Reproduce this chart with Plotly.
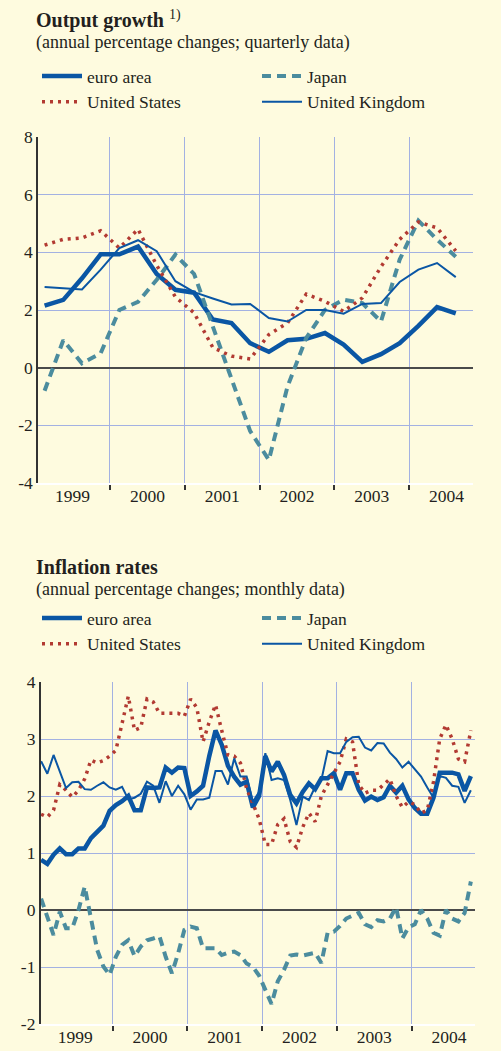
import plotly.graph_objects as go

# ---------------- data ----------------
years = [1999, 2000, 2001, 2002, 2003, 2004]
year_labels = ["1999", "2000", "2001", "2002", "2003", "2004"]
top_ticks = [-4, -2, 0, 2, 4, 6, 8]
bot_ticks = [-2, -1, 0, 1, 2, 3, 4]

# Output growth, quarterly 1999Q1 - 2004Q3
n_quarters = 23
euro_q = [2.15, 2.35, 3.1, 3.93, 3.93, 4.2, 3.25, 2.7, 2.6, 1.67, 1.55, 0.85,
          0.55, 0.95, 1.0, 1.2, 0.8, 0.2, 0.47, 0.85, 1.45, 2.1, 1.88]
japan_q = [-0.8, 0.95, 0.15, 0.5, 2.0, 2.28, 3.05, 3.92, 3.25, 1.45, -0.3, -2.2,
           -3.2, -0.65, 1.03, 2.0, 2.36, 2.24, 1.6, 3.75, 5.1, 4.44, 3.85]
us_q = [4.25, 4.45, 4.5, 4.75, 4.15, 4.8, 3.55, 2.45, 1.9, 0.7, 0.4, 0.3,
        1.15, 1.55, 2.55, 2.3, 1.95, 2.42, 3.5, 4.45, 5.05, 4.85, 4.05]
uk_q = [2.8, 2.75, 2.71, 3.4, 4.15, 4.42, 4.04, 3.0, 2.62, 2.4, 2.19, 2.21,
        1.72, 1.6, 2.0, 2.0, 1.87, 2.21, 2.24, 2.97, 3.4, 3.63, 3.14]

# Inflation rates, monthly Jan 1999 - Oct 2004
n_months = 70
euro_m = [0.88, 0.81, 0.97, 1.08, 0.98, 0.98, 1.08, 1.08, 1.26, 1.38, 1.48, 1.74,
          1.84, 1.91, 2.0, 1.75, 1.75, 2.15, 2.14, 2.15, 2.5, 2.41, 2.5, 2.49,
          2.0, 2.08, 2.18, 2.7, 3.15, 2.9, 2.53, 2.34, 2.2, 2.25, 1.8, 2.0,
          2.7, 2.43, 2.6, 2.37, 2.02, 1.87, 2.07, 2.22, 2.12, 2.31, 2.31, 2.4,
          2.11, 2.4, 2.4, 2.11, 1.92, 1.99, 1.93, 1.98, 2.18, 2.06, 2.18, 1.94,
          1.79, 1.69, 1.69, 1.97, 2.41, 2.41, 2.41, 2.38, 2.09, 2.35]
japan_m = [0.2, -0.12, -0.44, -0.03, -0.32, -0.32, 0.0, 0.41, -0.12, -0.7, -0.99, -1.14,
           -0.82, -0.61, -0.53, -0.81, -0.64, -0.53, -0.5, -0.46, -0.82, -1.11, -0.76, -0.35,
           -0.29, -0.32, -0.67, -0.67, -0.67, -0.79, -0.75, -0.73, -0.79, -0.94, -1.0, -1.15,
           -1.4, -1.65, -1.25, -1.05, -0.8, -0.78, -0.8, -0.77, -0.75, -0.93, -0.4, -0.38,
           -0.28, -0.15, -0.1, -0.05, -0.25, -0.3, -0.18, -0.2, -0.15, 0.05, -0.5, -0.3,
           -0.25, 0.0, -0.15, -0.4, -0.45, 0.0, -0.15, -0.2, -0.05, 0.5]
us_m = [1.68, 1.63, 1.75, 2.2, 2.1, 1.98, 2.1, 2.3, 2.63, 2.58, 2.62, 2.7,
        2.8, 3.3, 3.75, 3.15, 3.2, 3.7, 3.65, 3.45, 3.45, 3.45, 3.45, 3.4,
        3.7, 3.55, 2.95, 3.3, 3.6, 3.15, 2.72, 2.7, 2.58, 2.13, 1.85, 1.6,
        1.15, 1.15, 1.5, 1.6, 1.2, 1.1, 1.45, 1.7, 1.55, 2.0, 2.2, 2.4,
        2.6, 3.0, 2.95, 2.2, 2.05, 2.1, 2.1, 2.2, 2.3, 2.0, 1.8, 1.9,
        1.85, 1.7, 1.75, 2.25, 3.0, 3.25, 3.0, 2.65, 2.6, 3.15]
uk_m = [2.61, 2.39, 2.72, 2.44, 2.14, 2.24, 2.25, 2.12, 2.11, 2.18, 2.24, 2.15,
        2.11, 2.16, 1.94, 1.97, 2.04, 2.25, 2.18, 1.88, 2.26, 2.0, 2.18, 2.03,
        1.76, 1.94, 1.94, 1.97, 2.44, 2.44, 2.2, 2.66, 2.34, 2.34, 1.9, 2.07,
        2.75, 2.28, 2.31, 2.28, 1.93, 1.49, 1.99, 1.93, 2.16, 2.28, 2.79, 2.75,
        2.75, 2.95, 3.03, 3.04, 2.85, 2.8, 2.93, 2.92, 2.76, 2.65, 2.5, 2.6,
        2.47, 2.34, 2.15, 1.97, 2.35, 2.32, 2.18, 2.16, 1.88, 2.1]

# period positions on a numeric time axis (mid-period)
xq = [years[0] + (i + 0.5) / 4 for i in range(n_quarters)]
xm = [years[0] + (i + 0.5) / 12 for i in range(n_months)]

# ---------------- style ----------------
BG = "#FEFBDF"
GRID = "#A3B1E2"
BLUE = "#0A56A4"
RED = "#B23A32"
TEAL = "#4B8C9E"
FONT = "Liberation Serif"
TXT = "#231F20"

series = [
    ("euro area", euro_q, euro_m, dict(color=BLUE, width=4.5)),
    ("Japan", japan_q, japan_m, dict(color=TEAL, width=4, dash="9px,6px")),
    ("United States", us_q, us_m, dict(color=RED, width=3.5, dash="3px,5px")),
    ("United Kingdom", uk_q, uk_m, dict(color=BLUE, width=2)),
]

fig = go.Figure()
for name, q, m, ln in series:
    fig.add_trace(go.Scatter(x=xq, y=q, mode="lines", name=name, line=ln,
                             xaxis="x", yaxis="y", legend="legend"))
for name, q, m, ln in series:
    fig.add_trace(go.Scatter(x=xm, y=m, mode="lines", name=name, line=ln,
                             xaxis="x2", yaxis="y3", legend="legend2"))
# empty traces so that the year-label axes are instantiated
fig.add_trace(go.Scatter(x=[None], y=[None], xaxis="x3", yaxis="y",
                         showlegend=False, hoverinfo="skip"))
fig.add_trace(go.Scatter(x=[None], y=[None], xaxis="x4", yaxis="y3",
                         showlegend=False, hoverinfo="skip"))

H = 1051.0


def py(p):
    return 1 - p / H


tickfont = dict(family=FONT, size=17.5, color=TXT)
mid = [y + 0.5 for y in years]
bounds = years[1:]


def xaxis_ticks(domain, rng, anchor):
    # year boundaries: tick marks + vertical grid lines
    return dict(domain=domain, range=rng, anchor=anchor,
                tickmode="array", tickvals=bounds, showticklabels=False,
                ticks="outside", ticklen=5, tickwidth=1.5, tickcolor="#333333",
                showgrid=True, gridcolor=GRID, gridwidth=1, zeroline=False,
                showline=True, linecolor="#FFFFFF", linewidth=2, fixedrange=True)


def xaxis_labels(over, rng, anchor):
    # year labels centred in each year
    return dict(overlaying=over, range=rng, anchor=anchor, side="bottom",
                tickmode="array", tickvals=mid, ticktext=year_labels,
                ticks="", showgrid=False, zeroline=False, showline=False,
                tickfont=tickfont, fixedrange=True)


def yaxis_cfg(domain, rng, tv, anchor):
    return dict(domain=domain, range=rng, anchor=anchor,
                tickmode="array", tickvals=tv, ticktext=[str(v) for v in tv],
                showgrid=True, gridcolor=GRID, gridwidth=1,
                zeroline=True, zerolinecolor="#4A4A4A", zerolinewidth=1.5,
                showline=True, linecolor="#333333", linewidth=1.5,
                ticks="", tickfont=tickfont, fixedrange=True)


def yaxis_right(over, rng, tv, anchor):
    return dict(overlaying=over, side="right", range=rng, anchor=anchor,
                tickmode="array", tickvals=tv, ticktext=[str(v) for v in tv],
                showgrid=False, zeroline=False, showline=True,
                linecolor="#333333", linewidth=1.5, ticks="",
                tickfont=tickfont, fixedrange=True)


top_dom = [py(483), py(137)]
bot_dom = [py(1024), py(682)]
top_rng = [1999.037, 2004.856]
bot_rng = [1999.036, 2004.847]

legend_common = dict(orientation="h", xanchor="left", yanchor="top",
                     bgcolor="rgba(0,0,0,0)", borderwidth=0,
                     font=dict(family=FONT, size=17.5, color=TXT),
                     entrywidth=165, entrywidthmode="pixels",
                     itemwidth=40, traceorder="normal")

fig.update_layout(
    width=501, height=1051,
    margin=dict(l=37, r=25, t=0, b=0, autoexpand=False),
    paper_bgcolor=BG, plot_bgcolor=BG,
    xaxis=xaxis_ticks([0.0023, 0.9932], top_rng, "y"),
    xaxis3=xaxis_labels("x", top_rng, "y"),
    yaxis=yaxis_cfg(top_dom, [-4, 8], top_ticks, "x"),
    yaxis2=yaxis_right("y", [-4, 8], top_ticks, "x"),
    xaxis2=xaxis_ticks([0.0084, 0.9977], bot_rng, "y3"),
    xaxis4=xaxis_labels("x2", bot_rng, "y3"),
    yaxis3=yaxis_cfg(bot_dom, [-2, 4], bot_ticks, "x2"),
    yaxis4=yaxis_right("y3", [-2, 4], bot_ticks, "x2"),
    legend=dict(x=0, y=py(58), **legend_common),
    legend2=dict(x=0, y=py(600), **legend_common),
    showlegend=True,
)

annots = [
    ("<b>Output growth</b> <sup>1)</sup>", 20, 20),
    ("(annual percentage changes; quarterly data)", 42, 18),
    ("<b>Inflation rates</b>", 567, 20),
    ("(annual percentage changes; monthly data)", 589, 18),
]
for text, ypx, size in annots:
    fig.add_annotation(text=text, xref="paper", yref="paper", x=-3 / 439, y=py(ypx),
                       xanchor="left", yanchor="middle", showarrow=False,
                       font=dict(family=FONT, size=size, color=TXT))

fig.write_html(
    "out.html",
    config={"displayModeBar": False},
    post_script="document.body.style.margin='0';document.body.style.background='%s';" % BG,
)
